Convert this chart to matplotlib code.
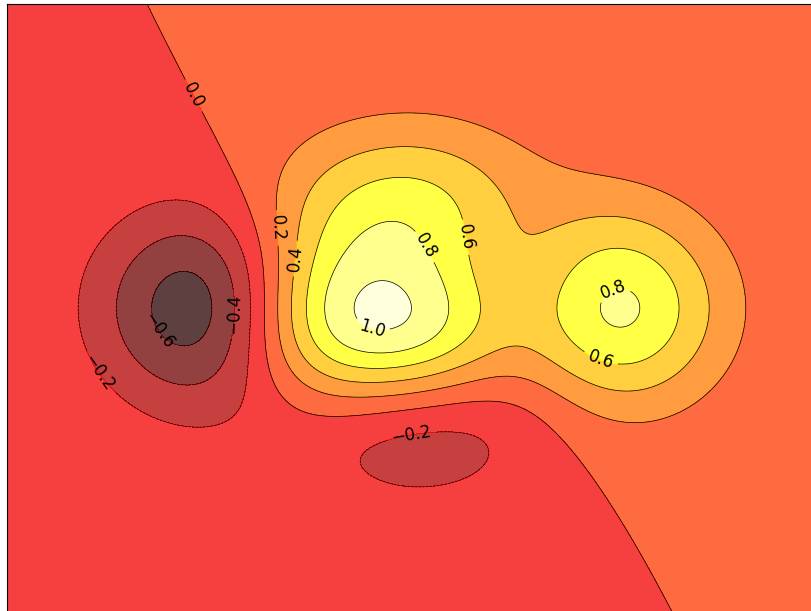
import numpy as np
import matplotlib
matplotlib.use("Agg")
import matplotlib.pyplot as plt

# grid extent and resolution of the sampled field
x_range = [-3.0, 3.0]
y_range = [-3.0, 3.0]
n_points = 256
n_levels = 8

# where the contour labels sit (data coords)
label_spots = [(-1.61, 2.10), (-0.98, 0.79), (-0.88, 0.49), (0.12, 0.62),
               (0.41, 0.70), (-0.29, -0.18), (1.49, 0.20), (1.41, -0.48),
               (-1.87, -0.22), (-1.32, -0.06), (-2.31, -0.63), (0.0, -1.24)]


def f(x, y):
    return (1 - x / 2 + x ** 5 + y ** 3) * np.exp(-x ** 2 - y ** 2)


x = np.linspace(x_range[0], x_range[1], n_points)
y = np.linspace(y_range[0], y_range[1], n_points)
X, Y = np.meshgrid(x, y)
Z = f(X, Y)

fig = plt.figure(figsize=(8.11, 6.11), dpi=100)
ax = fig.add_axes([7 / 811, -1 / 611, 809 / 811, 608 / 611])

ax.contourf(X, Y, Z, n_levels, alpha=0.75, cmap="hot")
C = ax.contour(X, Y, Z, n_levels, colors="black", linewidths=0.5)
ax.clabel(C, inline=1, fontsize=12, manual=label_spots)

ax.set_xticks([])
ax.set_yticks([])

fig.savefig("out.png", dpi=100)
